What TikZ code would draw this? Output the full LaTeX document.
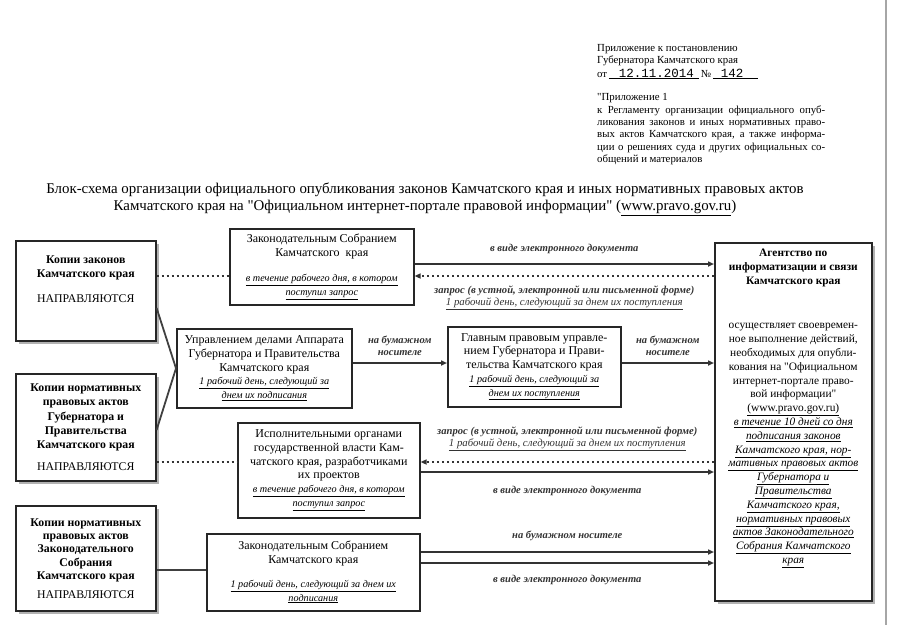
\documentclass[tikz,border=0pt]{standalone}
\usepackage{fontspec}
\setmainfont{Liberation Serif}
\newfontfamily\typefont{Liberation Mono}
\newfontfamily\qfont{Liberation Serif}
\usetikzlibrary{arrows.meta, positioning, shadows}

\newcommand{\ulit}[1]{\underline{\fontsize{10.2}{11}\selectfont\textit{#1}}}
\newcommand{\ulag}[1]{\underline{\fontsize{11.3}{12}\selectfont\textit{#1}}}
\newcommand{\ullbl}[1]{\underline{\fontsize{10.8}{12}\selectfont\textit{#1}}}
\newcommand{\bi}[1]{\textbf{\textit{#1}}}
\newcommand{\qq}{{\qfont"}}

\begin{document}
\begin{tikzpicture}[
  x=1pt, y=-1pt,
  every node/.style={inner sep=0pt, font=\fontsize{12}{13.7}\selectfont},
  srcbox/.style={rectangle, draw=black!85, line width=1.6pt, fill=white, anchor=north west,
    align=center, font=\fontsize{11.8}{14.2}\selectfont,
    drop shadow={shadow xshift=3.5pt, shadow yshift=-3.5pt, fill=black!30, opacity=1}},
  orgbox/.style={rectangle, draw=black!85, line width=1.6pt, fill=white, anchor=north west,
    align=center},
  lbl/.style={font=\fontsize{10.5}{12}\selectfont\bfseries\itshape, align=center},
  reqlbl/.style={font=\fontsize{10.6}{12}\selectfont, align=center},
  hdr/.style={font=\fontsize{10.8}{12.4}\selectfont, align=left, anchor=north west},
  arr/.style={-{Triangle[length=6pt, width=5pt]}, line width=1.5pt, black!80},
  dotarr/.style={-{Triangle[length=6pt, width=5pt]}, line width=1.5pt, black!80, dash pattern=on 2pt off 3pt},
  dotline/.style={line width=1.5pt, black!80, dash pattern=on 2pt off 3pt},
  link/.style={line width=1.8pt, black!75}
]
\useasboundingbox (0,0) rectangle (905,640);

% ===== HEADER =====
\node[hdr] (ann) at (597,44) {Приложение к постановлению\\Губернатора Камчатского края\\[1pt]
  от\,\underline{\makebox[90pt][r]{\typefont\fontsize{12.5}{12.5}\selectfont 12.11.2014\hspace{5pt}}}\,№\,\underline{\makebox[45pt][l]{\hspace{8pt}\typefont\fontsize{12.5}{12.5}\selectfont 142}}};
\node[hdr, below=14pt of ann.south west, anchor=north west] (annex) {\qq Приложение 1\\
  \makebox[228pt][s]{к Регламенту организации официального опуб-}\\
  \makebox[228pt][s]{ликования законов и иных нормативных право-}\\
  \makebox[228pt][s]{вых актов Камчатского края, а также информа-}\\
  \makebox[228pt][s]{ции о решениях суда и других официальных со-}\\
  общений и материалов};
\draw[black!35, line width=1.2pt] (886,0) -- (886,625);

% ===== TITLE =====
\node[font=\fontsize{14.9}{17}\selectfont, align=center] (title) at (425,199)
  {Блок-схема организации официального опубликования законов Камчатского края и иных нормативных правовых актов\\
   Камчатского края на \qq Официальном интернет-портале правовой информации\qq{} (\underline{www.pravo.gov.ru})};

% ===== SOURCE BOXES =====
\node[srcbox, minimum width=140pt, minimum height=100pt] (laws) at (15,240)
  {\textbf{Копии законов}\\\textbf{Камчатского края}\\[10pt]НАПРАВЛЯЮТСЯ\\[5pt]\strut};
\node[srcbox, minimum width=140pt, minimum height=107pt] (govacts) at (15,373)
  {\textbf{Копии нормативных}\\\textbf{правовых актов}\\\textbf{Губернатора и}\\\textbf{Правительства}\\\textbf{Камчатского края}\\[8pt]НАПРАВЛЯЮТСЯ};
\node[srcbox, font=\fontsize{11.8}{13.4}\selectfont, minimum width=140pt, minimum height=105pt] (assemblyacts) at (15,505)
  {\textbf{Копии нормативных}\\\textbf{правовых актов}\\\textbf{Законодательного}\\\textbf{Собрания}\\\textbf{Камчатского края}\\[5pt]НАПРАВЛЯЮТСЯ};

% ===== SENDERS =====
\node[orgbox, minimum width=184pt, minimum height=76pt] (assembly) at (229,228)
  {Законодательным Собранием\\Камчатского~~края\\[12pt]\ulit{в течение рабочего дня, в котором}\\\ulit{поступил запрос}};
\node[orgbox, minimum width=175pt, minimum height=79pt] (admin) at (176,328)
  {Управлением делами Аппарата\\Губернатора и Правительства\\Камчатского края\\\ulit{1 рабочий день, следующий за}\\\ulit{днем их подписания}};
\node[orgbox, minimum width=173pt, minimum height=80pt] (legal) at (447,326)
  {Главным правовым управле-\\нием Губернатора и Прави-\\тельства Камчатского края\\\ulit{1 рабочий день, следующий за}\\\ulit{днем их поступления}};
\node[orgbox, minimum width=182pt, minimum height=95pt] (execs) at (237,422)
  {Исполнительными органами\\государственной власти Кам-\\чатского края, разработчиками\\их проектов\\\ulit{в течение рабочего дня, в котором}\\\ulit{поступил запрос}};
\node[orgbox, minimum width=213pt, minimum height=77pt] (assembly2) at (206,533)
  {Законодательным Собранием\\Камчатского края\\[10pt]\ulit{1 рабочий день, следующий за днем их}\\\ulit{подписания}};

% ===== AGENCY =====
\node[srcbox, font=\fontsize{11.4}{13.8}\selectfont, minimum width=157pt, minimum height=358pt] (agency) at (714,242)
  {\textbf{Агентство по}\\\textbf{информатизации и связи}\\\textbf{Камчатского края}\\[31pt]
   осуществляет своевремен-\\ное выполнение действий,\\необходимых для опубли-\\кования на \qq Официальном\\интернет-портале право-\\вой информации\qq\\\underline{(www.pravo.gov.ru)}\\
   \ulag{в течение 10 дней со дня}\\\ulag{подписания законов}\\\ulag{Камчатского края, нор-}\\\ulag{мативных правовых актов}\\
   \ulag{Губернатора и}\\\ulag{Правительства}\\\ulag{Камчатского края,}\\\ulag{нормативных правовых}\\
   \ulag{актов Законодательного}\\\ulag{Собрания Камчатского}\\\ulag{края}\\[12pt]\strut};

% ===== ROWS =====
\coordinate (ytop) at (0,264);
\coordinate (yreq) at (0,276);
\coordinate (ypaper) at (0,363);
\coordinate (yreq2) at (0,462);
\coordinate (yel) at (0,472);
\coordinate (ylink) at (0,570);
\coordinate (ypaper2) at (0,552);
\coordinate (yel2) at (0,563);
\coordinate (ya) at (0,308);
\coordinate (yb) at (0,430);

% ===== CONNECTORS =====
\draw[dotline] (laws.east |- yreq) -- (assembly.west |- yreq);
\draw[arr] (assembly.east |- ytop) -- node[lbl, above=9pt] {в виде электронного документа} (agency.west |- ytop);
\draw[dotarr] (agency.west |- yreq) -- node[reqlbl, below=9pt]
  {\bi{запрос (в устной, электронной или письменной форме)}\\\ullbl{1 рабочий день, следующий за днем их поступления}} (assembly.east |- yreq);

\draw[link] (laws.east |- ya) -- (admin.west);
\draw[link] (govacts.east |- yb) -- (admin.west);
\draw[arr] (admin.east |- ypaper) -- node[lbl, above=7pt] {на бумажном\\носителе} (legal.west |- ypaper);
\draw[arr] (legal.east |- ypaper) -- node[lbl, above=7pt] {на бумажном\\носителе} (agency.west |- ypaper);

\draw[dotline] (govacts.east |- yreq2) -- (execs.west |- yreq2);
\draw[dotarr] (agency.west |- yreq2) -- node[reqlbl, above=10pt]
  {\bi{запрос (в устной, электронной или письменной форме)}\\\ullbl{1 рабочий день, следующий за днем их поступления}} (execs.east |- yreq2);
\draw[arr] (execs.east |- yel) -- node[lbl, below=13pt] {в виде электронного документа} (agency.west |- yel);

\draw[link] (assemblyacts.east |- ylink) -- (assembly2.west |- ylink);
\draw[arr] (assembly2.east |- ypaper2) -- node[lbl, above=10pt] {на бумажном носителе} (agency.west |- ypaper2);
\draw[arr] (assembly2.east |- yel2) -- node[lbl, below=11pt] {в виде электронного документа} (agency.west |- yel2);
\end{tikzpicture}
\end{document}
